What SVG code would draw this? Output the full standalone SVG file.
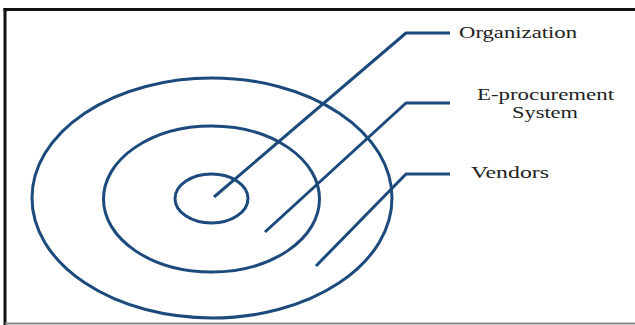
<svg xmlns="http://www.w3.org/2000/svg" width="635" height="325" viewBox="0 0 635 325">
<style>
.ring{fill:none;stroke:#1d4a7c;stroke-width:3}
.lead{fill:none;stroke:#1d4a7c;stroke-width:3;stroke-linejoin:round}
.lbl{font-family:"Liberation Serif","Times New Roman",serif;font-size:17px;fill:#222}
.sm{font-size:16px}
</style>
<rect x="0" y="0" width="635" height="325" fill="#ffffff"/>
<g id="frame">
<line x1="3.5" y1="9.5" x2="635" y2="9.5" stroke="#111" stroke-width="3"/>
<line x1="5" y1="8" x2="5" y2="325" stroke="#111" stroke-width="3"/>
<line x1="5" y1="323.5" x2="635" y2="323.5" stroke="#888" stroke-width="2"/>
</g>
<g id="vendors">
<ellipse class="ring" cx="212" cy="198" rx="180" ry="120"/>
<text class="lbl" x="471" y="178" textLength="78" lengthAdjust="spacingAndGlyphs">Vendors</text>
</g>
<g id="eprocurement">
<ellipse class="ring" cx="211.5" cy="199" rx="108" ry="73"/>
<text class="lbl sm" x="477" y="99.5" textLength="137" lengthAdjust="spacingAndGlyphs">E-procurement</text>
<text class="lbl sm" x="512" y="117.5" textLength="66" lengthAdjust="spacingAndGlyphs">System</text>
</g>
<g id="organization">
<ellipse class="ring" cx="211.5" cy="198.5" rx="36.5" ry="24.5"/>
<text class="lbl" x="459" y="38" textLength="118" lengthAdjust="spacingAndGlyphs">Organization</text>
</g>
<g id="connectors">
<polyline class="lead" points="214,197 406,33 450,33"/>
<polyline class="lead" points="265,232 406,103 450,103"/>
<polyline class="lead" points="316,266 406,174 450,174"/>
</g>
</svg>
